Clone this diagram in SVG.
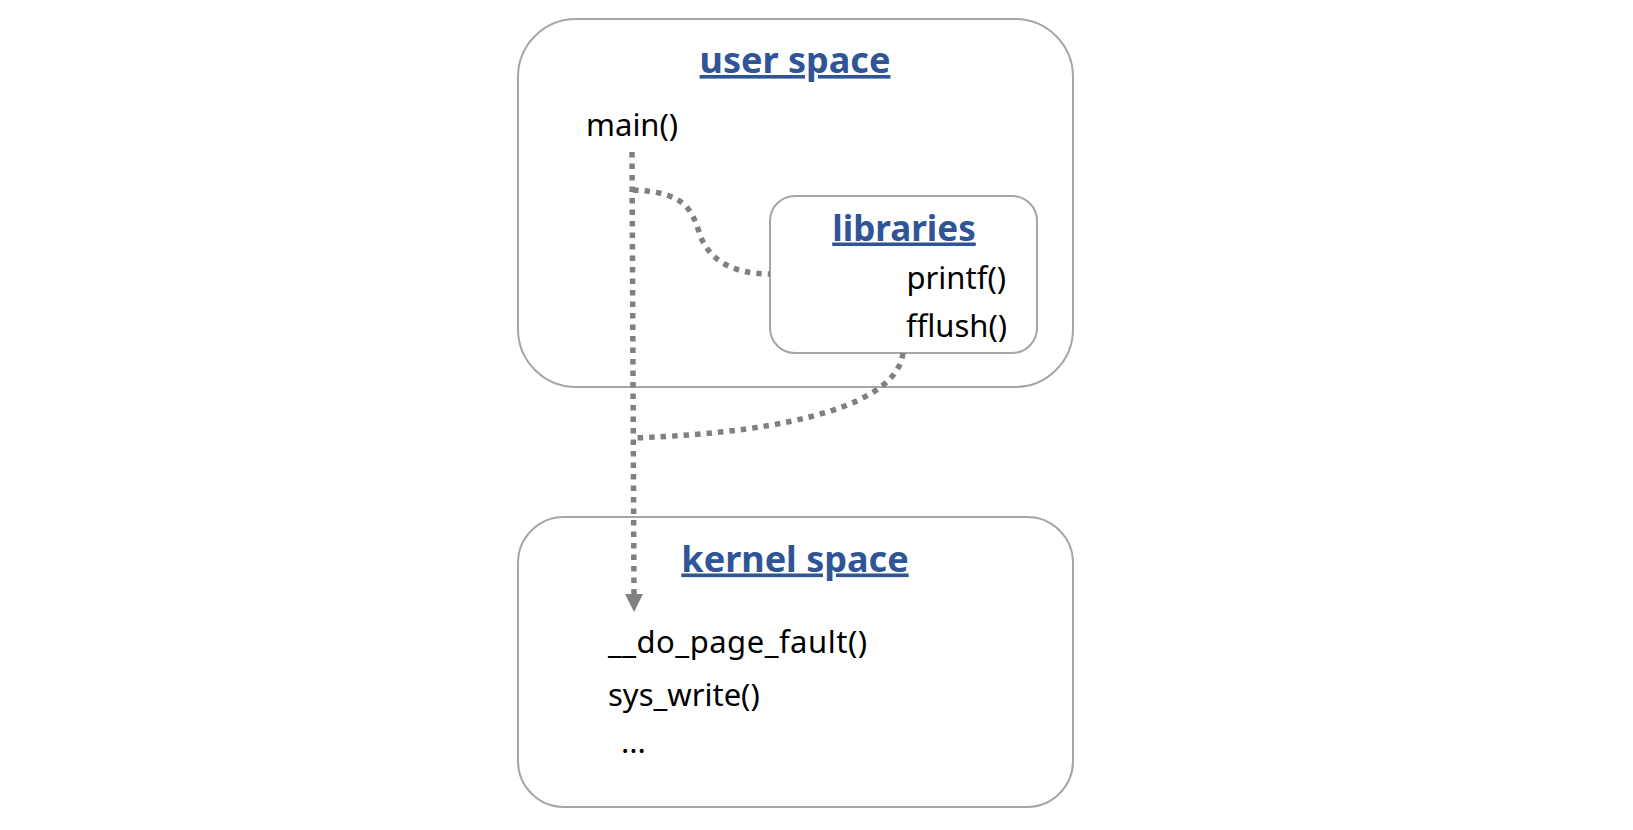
<svg xmlns="http://www.w3.org/2000/svg" width="1633" height="830" viewBox="0 0 1633 830">
<style>
.box{fill:#fff;stroke:#A6A6A6;stroke-width:2}
.title{font-family:"Noto Sans","Liberation Sans",sans-serif;font-weight:bold;font-size:36px;fill:#2F5597;text-decoration:underline;text-anchor:middle}
.fn{font-family:"Noto Sans","Liberation Sans",sans-serif;font-size:31px;fill:#000}
.conn{fill:none;stroke:#808080;stroke-width:5.5;stroke-dasharray:5.5 6}
</style>
<defs>
<marker id="arr" markerUnits="userSpaceOnUse" markerWidth="18" markerHeight="18" refX="0" refY="9" orient="auto" viewBox="0 0 18 18">
<path d="M0,0 L18,9 L0,18 Z" fill="#808080"/>
</marker>
</defs>
<rect width="1633" height="830" fill="#fff"/>
<g id="user-space">
<rect class="box" x="518" y="19" width="555" height="368" rx="58" ry="58"/>
<text class="title" x="795" y="73">user space</text>
<text class="fn" x="586" y="136">main()</text>
</g>
<g id="libraries">
<rect class="box" x="770" y="196" width="267" height="157" rx="25" ry="25"/>
<text class="title" x="904" y="240.5" style="font-size:35px">libraries</text>
<text class="fn" x="906.5" y="289">printf()</text>
<text class="fn" x="906" y="336.5">fflush()</text>
</g>
<g id="kernel-space">
<rect class="box" x="518" y="517" width="555" height="290" rx="46" ry="46"/>
<text class="title" x="795" y="571.5">kernel space</text>
<text class="fn" x="608" y="653" textLength="259">__do_page_fault()</text>
<text class="fn" x="608" y="706">sys_write()</text>
<text class="fn" x="621" y="752.5">...</text>
</g>
<g id="connectors">
<path class="conn" d="M632,152 L634,594" marker-end="url(#arr)"/>
<path class="conn" d="M633,190 C685,192 692,210 699,232 C707,258 730,274 770,274"/>
<path class="conn" d="M903,353 C897,402 800,432 634,438"/>
</g>
</svg>
